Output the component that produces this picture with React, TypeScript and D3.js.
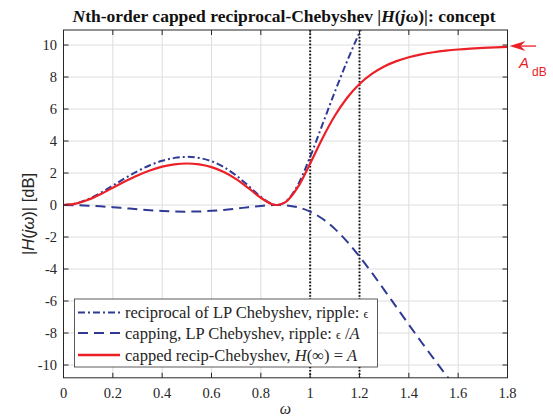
import React from "react";
import * as d3 from "d3";

const omega = [0, 0.05, 0.1, 0.15, 0.2, 0.25, 0.3, 0.35, 0.4, 0.45, 0.5, 0.55, 0.6, 0.65, 0.7, 0.75, 0.8, 0.85, 0.866, 0.9, 0.95, 1.0, 1.05, 1.1, 1.15, 1.2, 1.25, 1.3, 1.35, 1.4, 1.45, 1.5, 1.55, 1.6, 1.65, 1.7, 1.75, 1.8];
const reciprocalDb = [0, 0.096, 0.365, 0.757, 1.214, 1.681, 2.115, 2.484, 2.767, 2.947, 3.010, 2.943, 2.733, 2.368, 1.847, 1.194, 0.507, 0.038, 0, 0.198, 1.257, 3.010, 5.041, 7.073, 8.996, 10.781, 12.431, 13.961, 15.383, 16.713, 17.961, 19.138, 20.252, 21.309, 22.317, 23.279, 24.2, 25.084];
const cappingDb = [0, -0.010, -0.038, -0.082, -0.138, -0.201, -0.264, -0.323, -0.371, -0.403, -0.414, -0.402, -0.365, -0.304, -0.224, -0.135, -0.054, -0.004, 0, -0.020, -0.143, -0.414, -0.861, -1.491, -2.288, -3.216, -4.233, -5.301, -6.389, -7.475, -8.545, -9.590, -10.606, -11.589, -12.54, -13.459, -14.346, -15.204];
const cappedDb = [0, 0.086, 0.327, 0.675, 1.077, 1.481, 1.851, 2.161, 2.397, 2.545, 2.596, 2.541, 2.368, 2.064, 1.623, 1.059, 0.454, 0.034, 0, 0.178, 1.114, 2.596, 4.180, 5.582, 6.708, 7.565, 8.198, 8.660, 8.994, 9.238, 9.416, 9.548, 9.646, 9.720, 9.777, 9.820, 9.854, 9.880];

const xTicks = [0, 0.2, 0.4, 0.6, 0.8, 1, 1.2, 1.4, 1.6, 1.8];
const yTicks = [-10, -8, -6, -4, -2, 0, 2, 4, 6, 8, 10];
const markers = [1, 1.2];
const aDb = 10;

const W = 553, H = 419;
const L = 63.5, R = 507.5, T = 30, B = 377.8;
const BLUE = "#2e3a94";
const RED = "#ec2027";
const SERIF = "'Liberation Serif', 'Times New Roman', serif";
const SANS = "'Liberation Sans', Arial, sans-serif";

export default function App() {
  const x = d3.scaleLinear().domain([0, 1.8]).range([L, R]);
  const y = d3.scaleLinear().domain([-10.8, 10.94]).range([B, T]);
  const mk = (vals: number[]) =>
    d3.line<number>().x((_, i) => x(omega[i])).y((v) => y(v)).curve(d3.curveMonotoneX)(vals) || "";

  const fmt = (v: number) => (v === 0 ? "0" : String(v));
  const tick = 5;

  return (
    <svg width={W} height={H} style={{ position: "absolute", left: 0, top: 0, background: "#fff" }}>
      <defs>
        <clipPath id="plotclip">
          <rect x={L} y={T} width={R - L} height={B - T} />
        </clipPath>
      </defs>
      {/* grid */}
      {xTicks.map((t) => (
        <line key={"gx" + t} x1={x(t)} x2={x(t)} y1={T} y2={B} stroke="#dedede" strokeWidth={1} />
      ))}
      {yTicks.map((t) => (
        <line key={"gy" + t} x1={L} x2={R} y1={y(t)} y2={y(t)} stroke="#dedede" strokeWidth={1} />
      ))}
      {/* markers */}
      {markers.map((m) => (
        <line key={"m" + m} x1={x(m)} x2={x(m)} y1={T} y2={B} stroke="#111" strokeWidth={2} strokeDasharray="1.6,1.8" />
      ))}
      <g clipPath="url(#plotclip)" fill="none">
        <path d={mk(reciprocalDb)} stroke={BLUE} strokeWidth={2} strokeDasharray="7,3,2,3" />
        <path d={mk(cappingDb)} stroke={BLUE} strokeWidth={2} strokeDasharray="10,6" />
        <path d={mk(cappedDb)} stroke={RED} strokeWidth={2.2} />
      </g>
      {/* box and ticks */}
      <rect x={L} y={T} width={R - L} height={B - T} fill="none" stroke="#262626" strokeWidth={1} />
      {xTicks.map((t) => (
        <g key={"tx" + t}>
          <line x1={x(t)} x2={x(t)} y1={B} y2={B - tick} stroke="#262626" />
          <line x1={x(t)} x2={x(t)} y1={T} y2={T + tick} stroke="#262626" />
          <text x={x(t)} y={397.5} textAnchor="middle" fontFamily={SERIF} fontSize={14.5} fill="#262626">
            {fmt(t)}
          </text>
        </g>
      ))}
      {yTicks.map((t) => (
        <g key={"ty" + t}>
          <line x1={L} x2={L + tick} y1={y(t)} y2={y(t)} stroke="#262626" />
          <line x1={R} x2={R - tick} y1={y(t)} y2={y(t)} stroke="#262626" />
          <text x={57} y={y(t) + 5} textAnchor="end" fontFamily={SERIF} fontSize={14.5} fill="#262626">
            {fmt(t)}
          </text>
        </g>
      ))}
      {/* title */}
      <text x={284} y={22} textAnchor="middle" fontFamily={SERIF} fontSize={17.5} fontWeight="bold" fill="#111">
        <tspan fontStyle="italic">N</tspan>
        <tspan>th-order capped reciprocal-Chebyshev |</tspan>
        <tspan fontStyle="italic">H</tspan>
        <tspan>(</tspan>
        <tspan fontStyle="italic">j</tspan>
        <tspan>ω)|: concept</tspan>
      </text>
      {/* axis labels */}
      <text x={(L + R) / 2} y={414} textAnchor="middle" fontFamily={SERIF} fontStyle="italic" fontSize={16} fill="#262626">
        ω
      </text>
      <text transform={`translate(34, 214) rotate(-90)`} textAnchor="middle" fontFamily={SANS} fontSize={16.5} fill="#262626">
        |<tspan fontStyle="italic">H</tspan>(<tspan fontStyle="italic">j</tspan><tspan fontStyle="italic">ω</tspan>)| [dB]
      </text>
      {/* legend */}
      <g>
        <rect x={74.5} y={299} width={303} height={68} fill="#fff" stroke="#333" strokeWidth={0.8} />
        <line x1={78} x2={120} y1={312.5} y2={312.5} stroke={BLUE} strokeWidth={2} strokeDasharray="7,3,2,3" />
        <line x1={78} x2={120} y1={333} y2={333} stroke={BLUE} strokeWidth={2} strokeDasharray="10,6" />
        <line x1={78} x2={120} y1={355} y2={355} stroke={RED} strokeWidth={2.4} />
        <text x={125} y={318} fontFamily={SERIF} fontSize={16.5} fill="#262626">
          reciprocal of LP Chebyshev, ripple: <tspan fontSize={12}>ϵ</tspan>
        </text>
        <text x={125} y={338.5} fontFamily={SERIF} fontSize={16.5} fill="#262626">
          capping, LP Chebyshev, ripple: <tspan fontSize={12}>ϵ</tspan> /<tspan fontStyle="italic">A</tspan>
        </text>
        <text x={125} y={360.5} fontFamily={SERIF} fontSize={16.5} fill="#262626">
          capped recip-Chebyshev, <tspan fontStyle="italic">H</tspan>(∞) = <tspan fontStyle="italic">A</tspan>
        </text>
      </g>
      {/* A_dB annotation */}
      <g>
        <line x1={520} x2={536} y1={y(aDb) + 1} y2={y(aDb) + 1} stroke={RED} strokeWidth={1.3} />
        <path
          d={`M ${R + 2} ${y(aDb) + 1} L ${R + 18} ${y(aDb) - 4} L ${R + 13} ${y(aDb) + 1} L ${R + 18} ${y(aDb) + 6} Z`}
          fill={RED}
        />
        <text x={519} y={67.5} fontFamily={SANS} fontStyle="italic" fontSize={15} fill={RED}>
          A
        </text>
        <text x={532} y={75.5} fontFamily={SANS} fontSize={12} fill={RED}>
          dB
        </text>
      </g>
    </svg>
  );
}
